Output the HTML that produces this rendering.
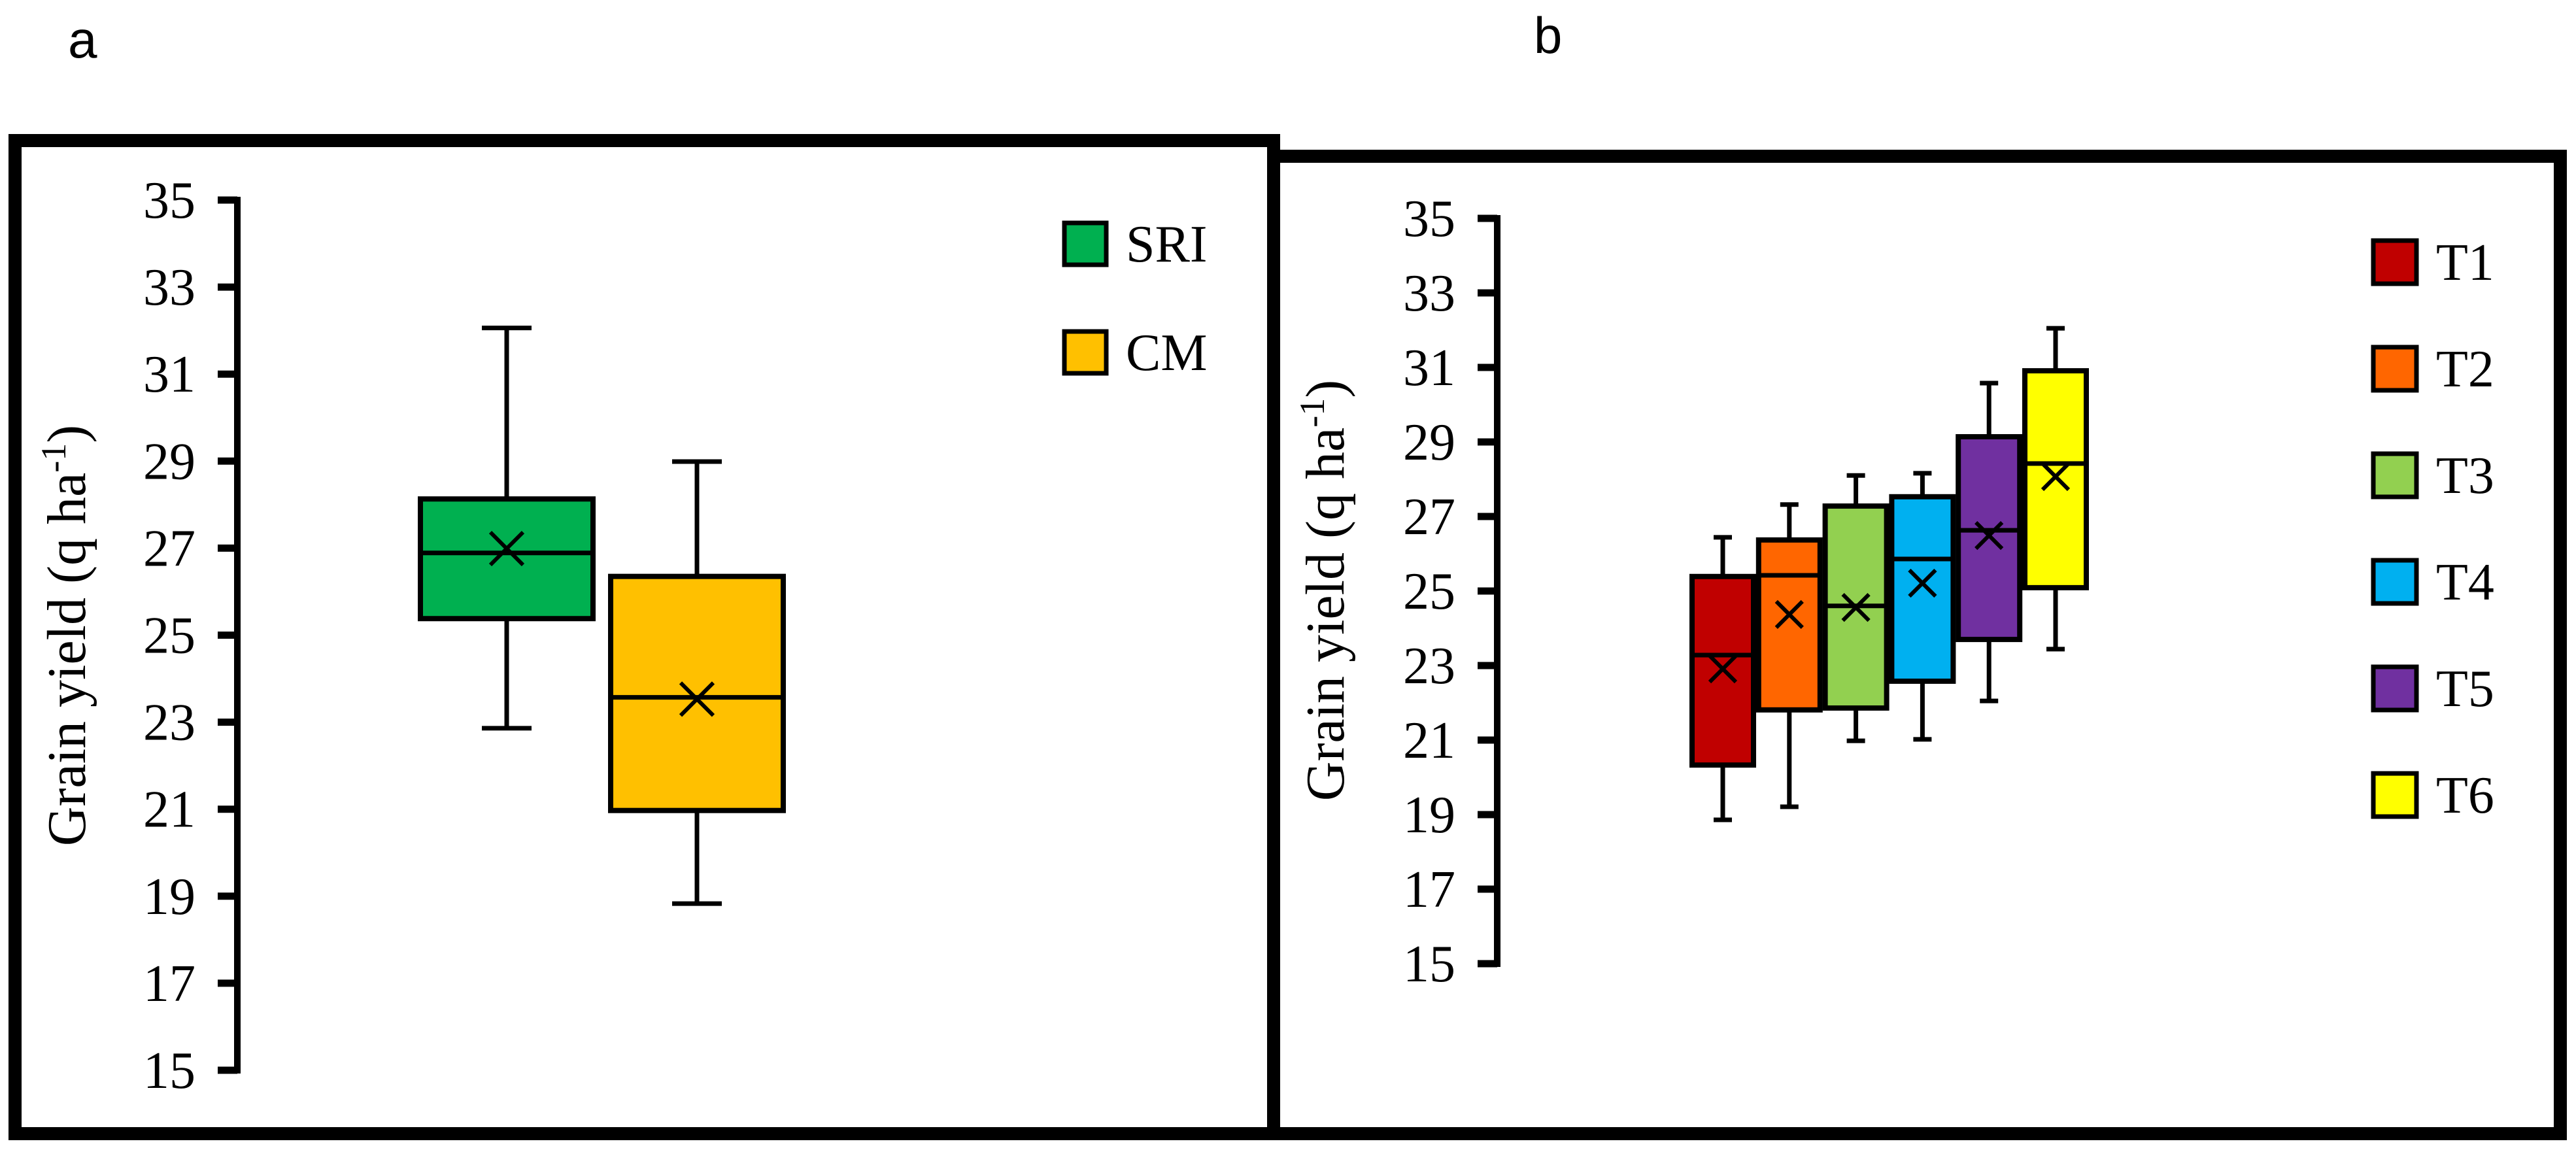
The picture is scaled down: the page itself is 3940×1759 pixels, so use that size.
<!DOCTYPE html>
<html><head><meta charset="utf-8"><style>html,body{margin:0;padding:0;background:#fff}svg{display:block}
.serif{font-family:"Liberation Serif","Times New Roman",serif}
.sans{font-family:"Liberation Sans",Arial,sans-serif}</style></head>
<body>
<svg id="chart" xmlns="http://www.w3.org/2000/svg" width="3940" height="1759" viewBox="0 0 3940 1759">
<rect x="0" y="0" width="3940" height="1759" fill="#fff"/>
<text class="sans" x="104" y="88" font-size="80">a</text>
<text class="sans" x="2346" y="81" font-size="78">b</text>
<rect x="23" y="215" width="1925" height="1519" fill="none" stroke="#000" stroke-width="20"/>
<rect x="1948" y="239" width="1968" height="1495" fill="none" stroke="#000" stroke-width="20"/>
<g id="ga"></g>
<g id="gb"></g>
</svg>
<script>
const ticks = [15,17,19,21,23,25,27,29,31,33,35];
const catsA = ['SRI','CM'];
const colorsA = ['#00B050','#FFC000'];
const minA = [22.86, 18.83];
const q1A = [25.38, 20.97];
const medA = [26.89, 23.57];
const q3A = [28.13, 26.35];
const maxA = [32.06, 28.99];
const meanA = [26.99, 23.53];

const catsB = ['T1','T2','T3','T4','T5','T6'];
const colorsB = ['#C00000','#FF6600','#92D050','#00B0F0','#7030A0','#FFFF00'];
const minB = [18.86, 19.21, 20.98, 21.02, 22.05, 23.44];
const q1B = [20.33, 21.81, 21.86, 22.58, 23.70, 25.09];
const medB = [23.28, 25.42, 24.60, 25.86, 26.63, 28.42];
const q3B = [25.39, 26.37, 27.28, 27.53, 29.14, 30.91];
const maxB = [26.44, 27.32, 28.10, 28.16, 30.58, 32.05];
const meanB = [22.91, 24.37, 24.56, 25.21, 26.49, 28.07];

const NS='http://www.w3.org/2000/svg';
function mk(parent, tag, attrs){const e=document.createElementNS(NS,tag);for(const k in attrs)e.setAttribute(k,attrs[k]);parent.appendChild(e);return e;}

function panel(g, cfg){
  const y = v => cfg.y35 + (35 - v) * cfg.ppu;
  const x = i => cfg.x0 + i * cfg.step;
  const ax = mk(g,'line',{x1:cfg.axX,x2:cfg.axX,y1:y(35)-5,y2:y(15)+5,stroke:'#000','stroke-width':10});
  
  
  ticks.forEach(t=>{
    const tk = mk(g,'line',{x1:cfg.axX-30,x2:cfg.axX,y1:y(t),y2:y(t),stroke:'#000','stroke-width':11});
    
    
    const tl = mk(g,'text',{class:'serif',x:cfg.axX-64,y:y(t)+27,'text-anchor':'end','font-size':80});
    tl.textContent = t;
    
    
  });
  const tt = mk(g,'text',{class:'serif',x:0,y:0,'text-anchor':'middle','font-size':84,transform:`translate(${cfg.titleX},${cfg.titleY}) rotate(-90)`});
  
  
  tt.appendChild(document.createTextNode(cfg.titleText));
  const sup = mk(tt,'tspan',{dy:-30,'font-size':54}); sup.textContent='-1';
  const cl = mk(tt,'tspan',{dy:30}); cl.textContent=')';
  cfg.cats.forEach((c,i)=>{
    const cx = x(i);
    const gg = mk(g,'g',{});
    
    
    mk(gg,'line',{x1:cx,x2:cx,y1:y(cfg.max[i]),y2:y(cfg.q3[i]),stroke:'#000','stroke-width':7});
    mk(gg,'line',{x1:cx,x2:cx,y1:y(cfg.q1[i]),y2:y(cfg.min[i]),stroke:'#000','stroke-width':7});
    mk(gg,'line',{x1:cx-cfg.cap/2,x2:cx+cfg.cap/2,y1:y(cfg.max[i]),y2:y(cfg.max[i]),stroke:'#000','stroke-width':7});
    mk(gg,'line',{x1:cx-cfg.cap/2,x2:cx+cfg.cap/2,y1:y(cfg.min[i]),y2:y(cfg.min[i]),stroke:'#000','stroke-width':7});
    mk(gg,'rect',{x:cx-cfg.bw/2,y:y(cfg.q3[i]),width:cfg.bw,height:y(cfg.q1[i])-y(cfg.q3[i]),fill:cfg.colors[i],stroke:'#000','stroke-width':8});
    mk(gg,'line',{x1:cx-cfg.bw/2,x2:cx+cfg.bw/2,y1:y(cfg.med[i]),y2:y(cfg.med[i]),stroke:'#000','stroke-width':7});
    const m=cfg.mk/2, my=y(cfg.mean[i]);
    mk(gg,'path',{d:`M${cx-m},${my-m}L${cx+m},${my+m}M${cx-m},${my+m}L${cx+m},${my-m}`,stroke:'#000','stroke-width':6,fill:'none'});
  });
  cfg.cats.forEach((c,i)=>{
    const ly = cfg.legY + i*cfg.legStep;
    const lr = mk(g,'rect',{x:cfg.legX,y:ly-cfg.legS/2,width:cfg.legS,height:cfg.legS,fill:cfg.colors[i],stroke:'#000','stroke-width':7});
    
    
    const lt = mk(g,'text',{class:'serif',x:cfg.legX+cfg.legS+30,y:ly+27,'font-size':80});
    lt.textContent = c;
    
    
  });
}
panel(document.getElementById('ga'),{p:'a',y35:306,ppu:66.55,axX:363,x0:775,step:291,bw:264,cap:76,mk:50,
  cats:catsA,colors:colorsA,min:minA,q1:q1A,med:medA,q3:q3A,max:maxA,mean:meanA,
  titleX:130,titleY:972,titleText:'Grain yield (q ha',legX:1628,legY:373,legStep:166,legS:64});
panel(document.getElementById('gb'),{p:'b',y35:334,ppu:57,axX:2290,x0:2635,step:101.8,bw:94,cap:28,mk:40,
  cats:catsB,colors:colorsB,min:minB,q1:q1B,med:medB,q3:q3B,max:maxB,mean:meanB,
  titleX:2055,titleY:903,titleText:'Grain yield  (q ha',legX:3630,legY:401,legStep:163,legS:66});
</script>
</body></html>
